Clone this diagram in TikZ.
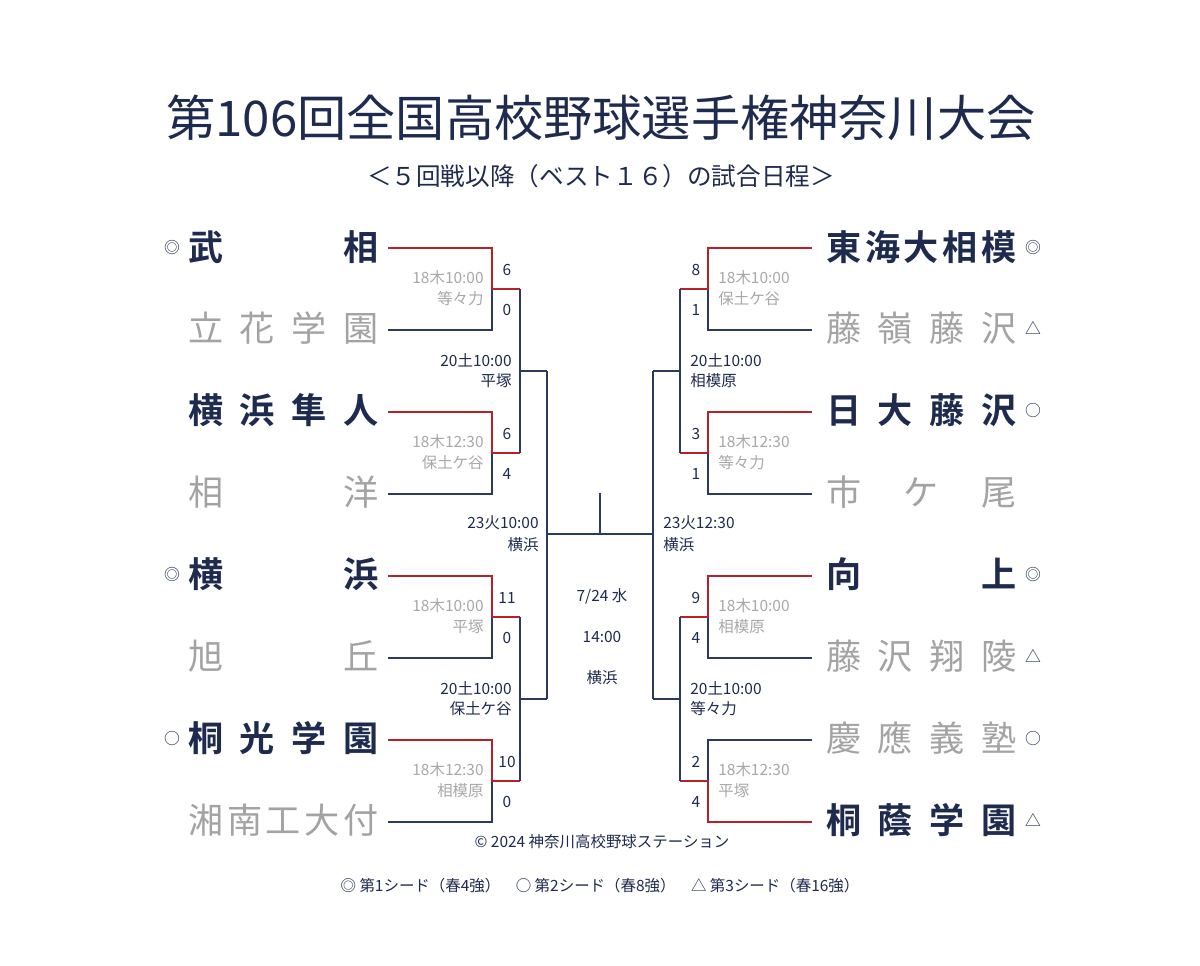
\documentclass[tikz,border=0pt]{standalone}
\usepackage{fontspec}
\newfontfamily\jp{Noto Sans CJK JP}
\newfontfamily\jpb{Noto Sans CJK JP Bold}
\definecolor{navy}{HTML}{1E2B4F}
\definecolor{ln}{HTML}{2B3A5E}
\definecolor{rd}{HTML}{B52228}
\definecolor{gr}{HTML}{A3A3A3}
\definecolor{lg}{HTML}{A8A8A8}
\tikzset{
 win/.style={font=\jpb\fontsize{20}{22}\selectfont,text=navy,inner sep=0},
 lose/.style={font=\jp\fontsize{20}{22}\selectfont,text=gr,inner sep=0},
 sm/.style={font=\jp\fontsize{8.8}{10}\selectfont,text=navy,inner sep=0},
 tm/.style={font=\jp\fontsize{8.8}{10}\selectfont,text=lg,inner sep=0},
 mk/.style={font=\jp\fontsize{9}{10}\selectfont,text=navy,inner sep=0},
 bl/.style={draw=ln,line width=1.1pt},
 rl/.style={draw=rd,line width=1.3pt},
}
\newcommand{\nmbox}[1]{\makebox[3.8cm][s]{#1}}
\begin{document}
\begin{tikzpicture}[x=0.02cm,y=-0.02cm]
\useasboundingbox[fill=white] (0,0) rectangle (1200,966);
\node[font=\jp\fontsize{28}{30}\selectfont,text=navy] (title) at (601,118) {第106回全国高校野球選手権神奈川大会};
\node[font=\jp\fontsize{14}{16}\selectfont,text=navy] (sub) at (601,176) {＜５回戦以降（ベスト１６）の試合日程＞};
% left names
\node[win,anchor=west] (l1) at (188,247) {\nmbox{武\hfill 相}};
\node[lose,anchor=west] (l2) at (188,328) {\nmbox{立\hfill 花\hfill 学\hfill 園}};
\node[win,anchor=west] (l3) at (188,410) {\nmbox{横\hfill 浜\hfill 隼\hfill 人}};
\node[lose,anchor=west] (l4) at (188,492) {\nmbox{相\hfill 洋}};
\node[win,anchor=west] (l5) at (188,574) {\nmbox{横\hfill 浜}};
\node[lose,anchor=west] (l6) at (188,656) {\nmbox{旭\hfill 丘}};
\node[win,anchor=west] (l7) at (188,738) {\nmbox{桐\hfill 光\hfill 学\hfill 園}};
\node[lose,anchor=west] (l8) at (188,820) {\nmbox{湘\hfill 南\hfill 工\hfill 大\hfill 付}};
\node[mk] (ml1) at (172,247) {◎};
\node[mk] (ml5) at (172,574) {◎};
\node[mk] (ml7) at (172,738) {○};
% right names
\node[win,anchor=west] (r1) at (826,247) {\nmbox{東\hfill 海\hfill 大\hfill 相\hfill 模}};
\node[lose,anchor=west] (r2) at (826,328) {\nmbox{藤\hfill 嶺\hfill 藤\hfill 沢}};
\node[win,anchor=west] (r3) at (826,410) {\nmbox{日\hfill 大\hfill 藤\hfill 沢}};
\node[lose,anchor=west] (r4) at (826,492) {\nmbox{市\hfill ケ\hfill 尾}};
\node[win,anchor=west] (r5) at (826,574) {\nmbox{向\hfill 上}};
\node[lose,anchor=west] (r6) at (826,656) {\nmbox{藤\hfill 沢\hfill 翔\hfill 陵}};
\node[lose,anchor=west] (r7) at (826,738) {\nmbox{慶\hfill 應\hfill 義\hfill 塾}};
\node[win,anchor=west] (r8) at (826,820) {\nmbox{桐\hfill 蔭\hfill 学\hfill 園}};
\node[mk] (mr1) at (1033,247) {◎};
\node[mk] (mr2) at (1033,328) {△};
\node[mk] (mr3) at (1033,410) {○};
\node[mk] (mr5) at (1033,574) {◎};
\node[mk] (mr6) at (1033,656) {△};
\node[mk] (mr7) at (1033,738) {○};
\node[mk] (mr8) at (1033,820) {△};
% left bracket first round
\foreach \t/\b in {248/330,412/494,576/658,740/822}{
  \draw[bl] (388,\b) -- (492,\b) -- (492,{(\t+\b)/2});
  \draw[rl] (388,\t) -- (492,\t) -- (492,{(\t+\b)/2}) -- (520,{(\t+\b)/2});
}
% right bracket first round
\foreach \t/\b in {248/330,412/494,576/658}{
  \draw[bl] (812,\b) -- (708,\b) -- (708,{(\t+\b)/2});
  \draw[rl] (812,\t) -- (708,\t) -- (708,{(\t+\b)/2}) -- (680,{(\t+\b)/2});
}
\draw[bl] (812,740) -- (708,740) -- (708,781);
\draw[rl] (812,822) -- (708,822) -- (708,781) -- (680,781);
% second round & beyond
\draw[bl] (520,289) -- (520,453);
\draw[bl] (520,617) -- (520,781);
\draw[bl] (520,371) -- (547,371);
\draw[bl] (520,699) -- (547,699);
\draw[bl] (547,371) -- (547,699);
\draw[bl] (680,289) -- (680,453);
\draw[bl] (680,617) -- (680,781);
\draw[bl] (680,371) -- (653,371);
\draw[bl] (680,699) -- (653,699);
\draw[bl] (653,371) -- (653,699);
\draw[bl] (547,534) -- (653,534);
\draw[bl] (600,534) -- (600,493);
% scores
\foreach \y/\a/\b [count=\i] in {248/6/0,412/6/4,576/11/0,740/10/0}{
  \node[sm] (sl\i a) at (507,\y+22) {\a};
  \node[sm] (sl\i b) at (507,\y+62) {\b};
}
\foreach \y/\a/\b [count=\i] in {248/8/1,412/3/1,576/9/4,740/2/4}{
  \node[sm] (sr\i a) at (696,\y+22) {\a};
  \node[sm] (sr\i b) at (696,\y+62) {\b};
}
% time labels
\foreach \y/\t/\p [count=\i] in {248/18木10:00/等々力,412/18木12:30/保土ケ谷,576/18木10:00/平塚,740/18木12:30/相模原}{
  \node[tm,anchor=east] (tl\i a) at (484,\y+30) {\t};
  \node[tm,anchor=east] (tl\i b) at (484,\y+51) {\p};
}
\foreach \y/\t/\p [count=\i] in {248/18木10:00/保土ケ谷,412/18木12:30/等々力,576/18木10:00/相模原,740/18木12:30/平塚}{
  \node[tm,anchor=west] (tr\i a) at (718,\y+30) {\t};
  \node[tm,anchor=west] (tr\i b) at (718,\y+51) {\p};
}
\node[sm,anchor=east] (q1a) at (512,360) {20土10:00};
\node[sm,anchor=east] (q1b) at (512,381) {平塚};
\node[sm,anchor=east] (q2a) at (512,688) {20土10:00};
\node[sm,anchor=east] (q2b) at (512,709) {保土ケ谷};
\node[sm,anchor=west] (q3a) at (690,360) {20土10:00};
\node[sm,anchor=west] (q3b) at (690,381) {相模原};
\node[sm,anchor=west] (q4a) at (690,688) {20土10:00};
\node[sm,anchor=west] (q4b) at (690,709) {等々力};
\node[sm,anchor=east] (s1a) at (539,523) {23火10:00};
\node[sm,anchor=east] (s1b) at (539,545) {横浜};
\node[sm,anchor=west] (s2a) at (663,523) {23火12:30};
\node[sm,anchor=west] (s2b) at (663,545) {横浜};
\node[sm] (f1) at (602,596) {7/24 水};
\node[sm] (f2) at (602,637) {14:00};
\node[sm] (f3) at (602,678) {横浜};
\node[sm] (copy) at (602,842) {© 2024 神奈川高校野球ステーション};
\node[sm] (leg) at (600,886) {◎ 第1シード（春4強）\quad ○ 第2シード（春8強）\quad △ 第3シード（春16強）};
\end{tikzpicture}
\end{document}
